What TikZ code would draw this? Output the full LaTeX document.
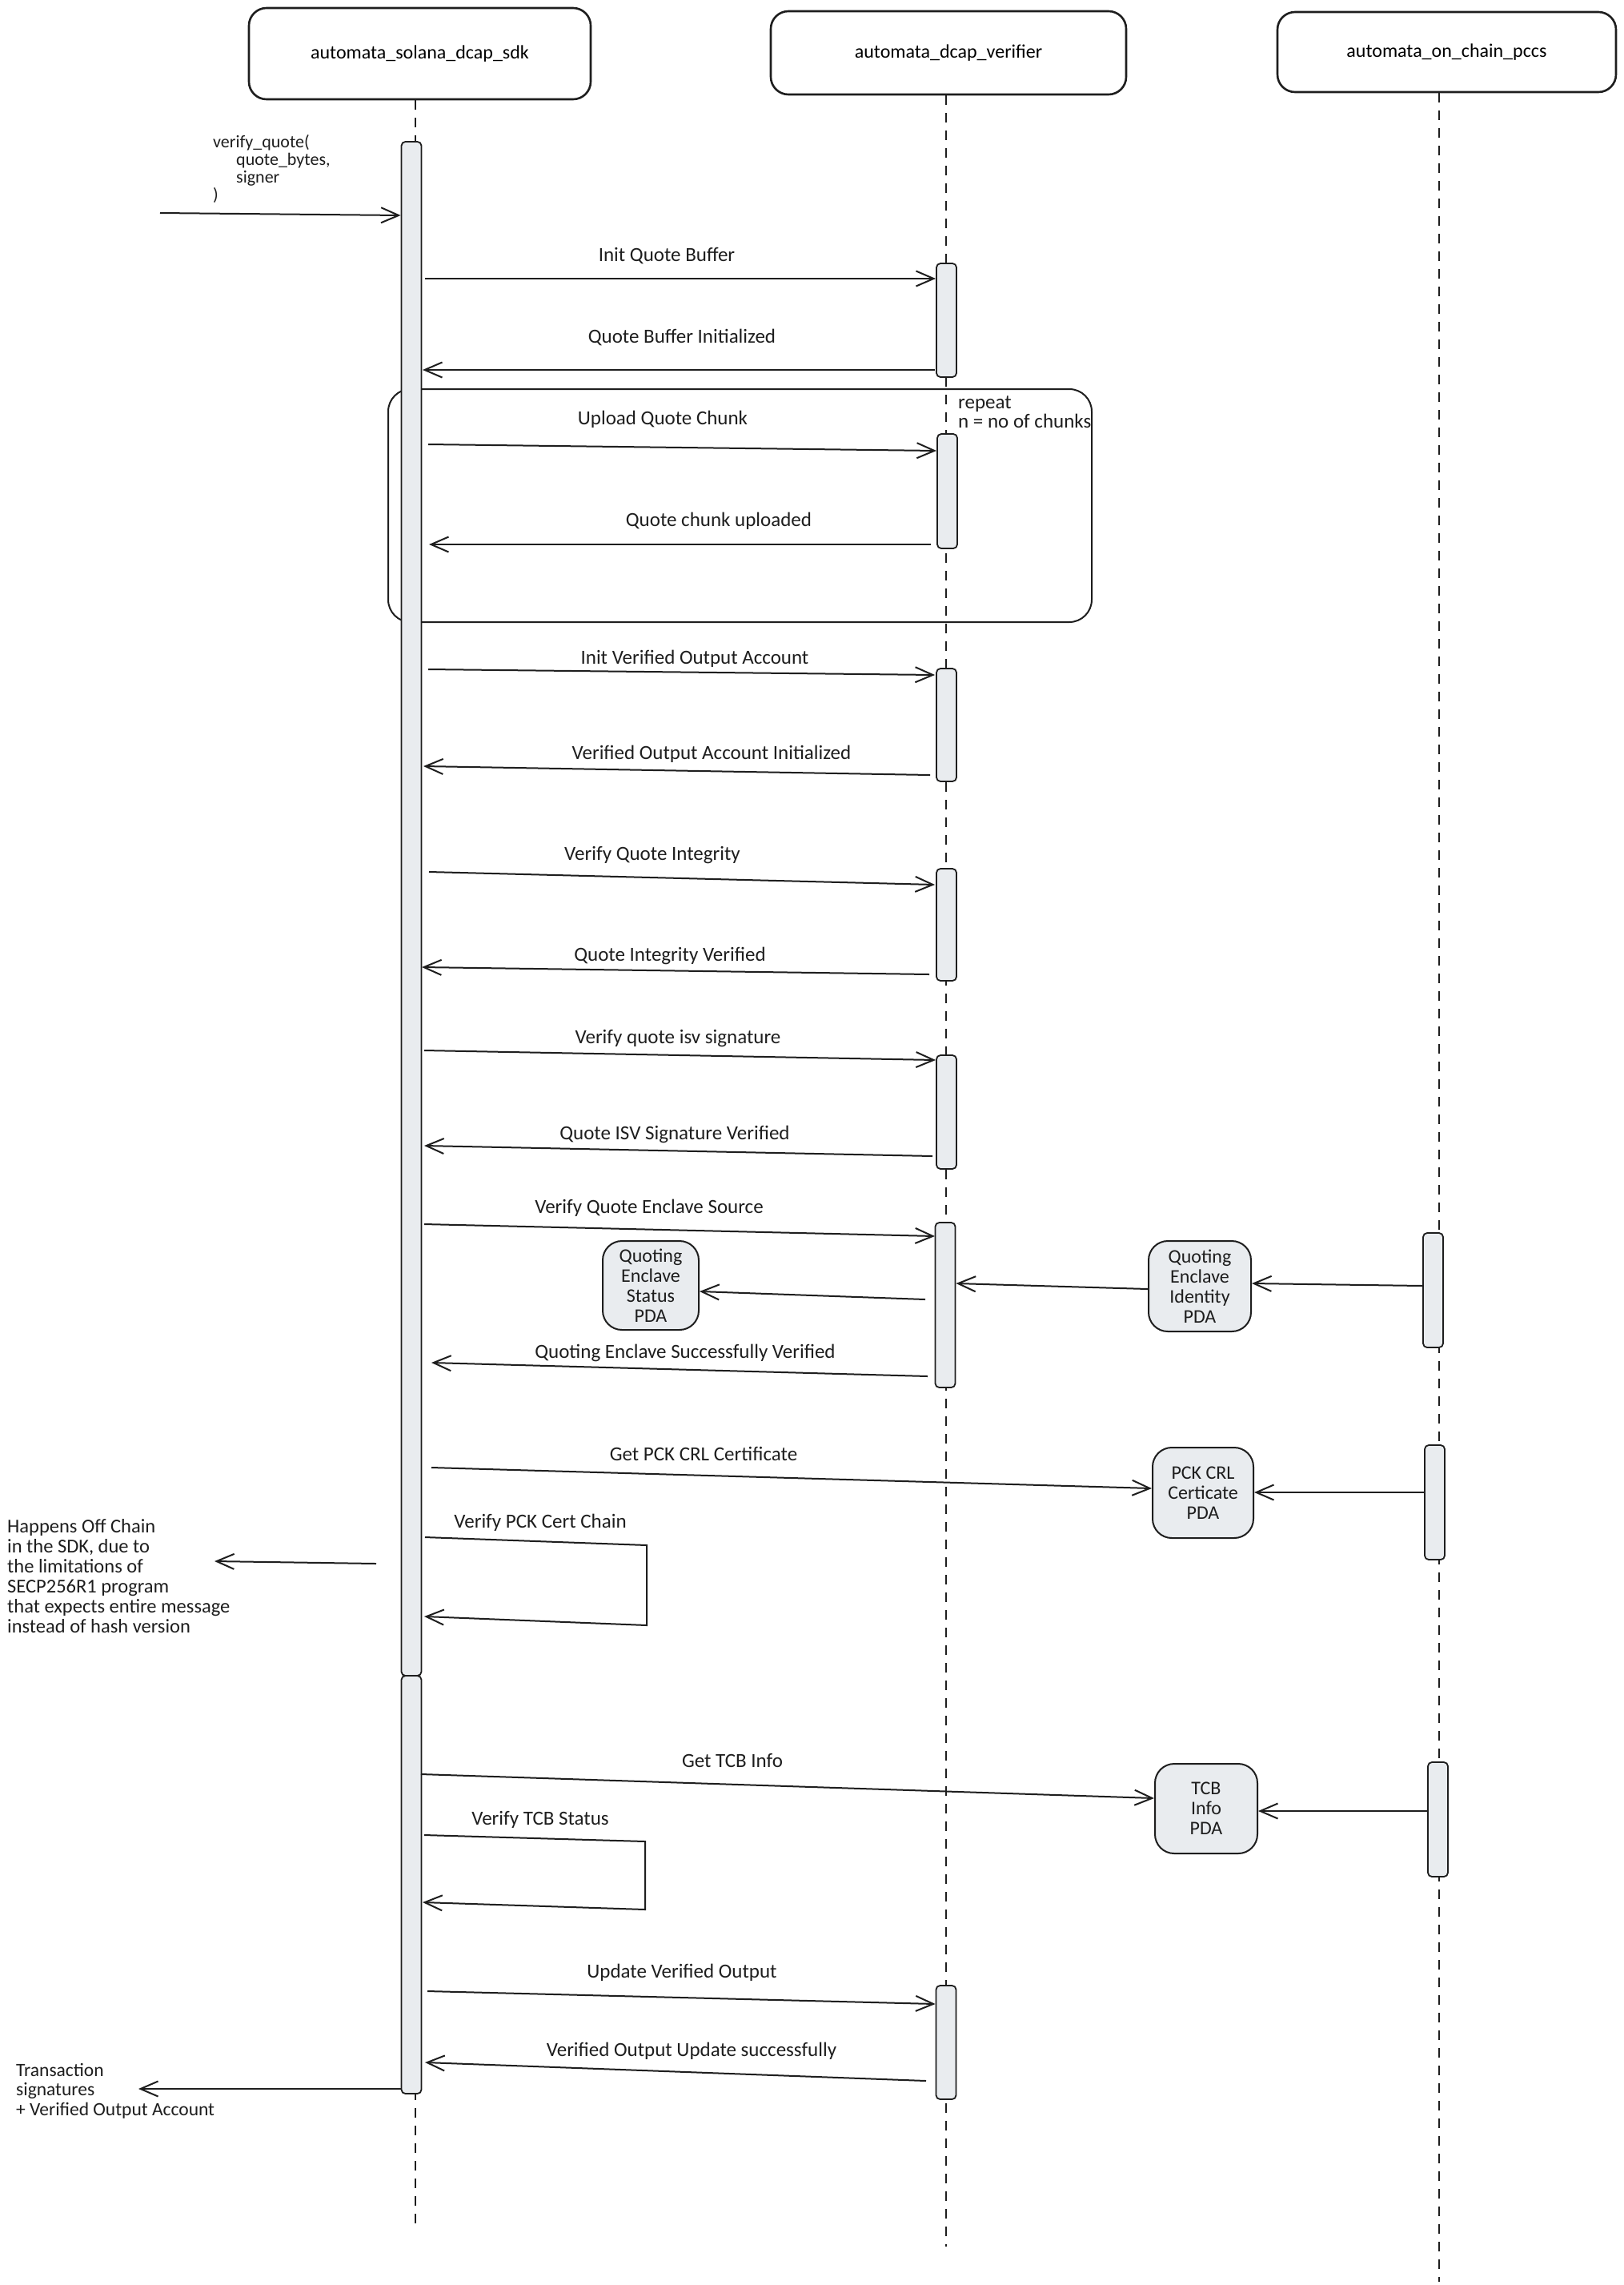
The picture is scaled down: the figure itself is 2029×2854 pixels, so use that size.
\documentclass[tikz,border=0pt]{standalone}
\usepackage{fontspec}
\setmainfont{Carlito}
\usetikzlibrary{arrows.meta}
\definecolor{ink}{HTML}{1E1E1E}
\definecolor{actfill}{HTML}{E9ECEF}
\tikzset{
  actor/.style={draw=ink, line width=2.6pt, rounded corners=22pt, font=\fontsize{24}{28}\selectfont},
  lifeline/.style={draw=ink, line width=2.2pt, dash pattern=on 12pt off 10pt},
  actbar/.style={draw=ink, fill=actfill, line width=1.8pt, rounded corners=5pt, minimum width=25pt, inner sep=0pt},
  msg/.style={draw=ink, line width=2pt, -{Straight Barb[length=22pt,width=19pt,line width=2pt]}},
  selfmsg/.style={draw=ink, line width=2pt, -{Straight Barb[length=22pt,width=19pt,line width=2pt]}},
  lbl/.style={font=\fontsize{25}{28}\selectfont, inner sep=0pt, text=ink},
  note/.style={font=\fontsize{24.5}{25}\selectfont, inner sep=0pt, align=left, text=ink},
  pda/.style={draw=ink, fill=actfill, line width=2pt, rounded corners=24pt, align=center, inner sep=0pt, font=\fontsize{24}{25}\selectfont, text=ink},
  loopbox/.style={draw=ink, line width=2pt, rounded corners=28pt, inner sep=0pt}
}
\begin{document}
\begin{tikzpicture}[x=1pt,y=-1pt]
\useasboundingbox (0,0) rectangle (2029,2854);
\fill[white] (0,0) rectangle (2029,2854);

% actors
\node[actor, minimum width=427pt, minimum height=114pt] (sdk) at (524.5,67) {automata\_solana\_dcap\_sdk};
\node[actor, minimum width=444pt, minimum height=104pt] (ver) at (1185,66) {automata\_dcap\_verifier};
\node[actor, minimum width=423pt, minimum height=100pt] (pccs) at (1807.5,65) {automata\_on\_chain\_pccs};

% lifelines
\coordinate (sdkend) at (519,2779);
\coordinate (verend) at (1182,2806);
\coordinate (pccsend) at (1798,2850);
\draw[lifeline] (sdkend |- sdk.south) -- (sdkend);
\draw[lifeline] (verend |- ver.south) -- (verend);
\draw[lifeline] (pccsend |- pccs.south) -- (pccsend);

% loop frame
\node[loopbox, minimum width=879pt, minimum height=291pt] (loop) at (924.5,631.5) {};
\node[note, anchor=north west, font=\fontsize{25}{24}\selectfont] (rep) at (1197,494) {repeat\\n = no of chunks};

% activation bars
\node[actbar, minimum height=1916pt] (sb1) at (514,1135) {};
\node[actbar, minimum height=522pt] (sb2) at (514,2354) {};
\node[actbar, minimum height=142pt] (v1) at (1182.5,400) {};
\node[actbar, minimum height=143pt] (v2) at (1183.5,613.5) {};
\node[actbar, minimum height=141pt] (v3) at (1182.5,905.5) {};
\node[actbar, minimum height=140pt] (v4) at (1182.5,1155) {};
\node[actbar, minimum height=142pt] (v5) at (1182.5,1389) {};
\node[actbar, minimum height=206pt] (v6) at (1181,1630) {};
\node[actbar, minimum height=142pt] (v7) at (1182,2551) {};
\node[actbar, minimum height=143pt] (p1) at (1790.5,1611.5) {};
\node[actbar, minimum height=143pt] (p2) at (1792.5,1876.5) {};
\node[actbar, minimum height=143pt] (p3) at (1796.5,2272.5) {};

% PDA boxes
\node[pda, minimum width=120pt, minimum height=111pt] (qes) at (813,1605.5) {Quoting\\Enclave\\Status\\PDA};
\node[pda, minimum width=128pt, minimum height=113pt] (qei) at (1499,1606.5) {Quoting\\Enclave\\Identity\\PDA};
\node[pda, minimum width=126pt, minimum height=113pt] (pck) at (1503,1864.5) {PCK CRL\\Certicate\\PDA};
\node[pda, minimum width=128pt, minimum height=112pt] (tcb) at (1507,2259) {TCB\\Info\\PDA};

% entry
\node[note, anchor=north west, font=\fontsize{22}{22}\selectfont] (call) at (266,168) {verify\_quote(\\\hspace*{29pt}quote\_bytes,\\\hspace*{29pt}signer\\)};
\coordinate (entry) at (200,266);
\draw[msg] (entry) -- (sb1.west |- 0,269);

% messages
\coordinate (m1s) at (531,348);  \coordinate (m1e) at (1169,348);
\draw[msg] (m1s) -- (m1e);
\node[lbl] (l1) at (833,320) {Init Quote Buffer};

\coordinate (m2s) at (1168,462); \coordinate (m2e) at (528,462);
\draw[msg] (m2s) -- (m2e);
\node[lbl] (l2) at (852,421) {Quote Buffer Initialized};

\coordinate (m3s) at (535,555);  \coordinate (m3e) at (1170,563);
\draw[msg] (m3s) -- (m3e);
\node[lbl] (l3) at (828,524) {Upload Quote Chunk};

\coordinate (m4s) at (1163,680); \coordinate (m4e) at (536,680);
\draw[msg] (m4s) -- (m4e);
\node[lbl] (l4) at (898,651) {Quote chunk uploaded};

\coordinate (m5s) at (535,836);  \coordinate (m5e) at (1168,843);
\draw[msg] (m5s) -- (m5e);
\node[lbl] (l5) at (868,823) {Init Verified Output Account};

\coordinate (m6s) at (1162,968); \coordinate (m6e) at (529,957);
\draw[msg] (m6s) -- (m6e);
\node[lbl] (l6) at (889,942) {Verified Output Account Initialized};

\coordinate (m7s) at (536,1089); \coordinate (m7e) at (1168,1105);
\draw[msg] (m7s) -- (m7e);
\node[lbl] (l7) at (815,1068) {Verify Quote Integrity};

\coordinate (m8s) at (1161,1217); \coordinate (m8e) at (527,1208);
\draw[msg] (m8s) -- (m8e);
\node[lbl] (l8) at (837,1194) {Quote Integrity Verified};

\coordinate (m9s) at (530,1312); \coordinate (m9e) at (1169,1324);
\draw[msg] (m9s) -- (m9e);
\node[lbl] (l9) at (847,1297) {Verify quote isv signature};

\coordinate (m10s) at (1165,1444); \coordinate (m10e) at (530,1431);
\draw[msg] (m10s) -- (m10e);
\node[lbl] (l10) at (843,1417) {Quote ISV Signature Verified};

\coordinate (m11s) at (530,1529); \coordinate (m11e) at (1168,1544);
\draw[msg] (m11s) -- (m11e);
\node[lbl] (l11) at (811,1509) {Verify Quote Enclave Source};

\coordinate (m12s) at (1156,1623);
\draw[msg] (m12s) -- (qes.east |- 0,1613);
\draw[msg] (qei.west |- 0,1610) -- (v6.east |- 0,1603);
\draw[msg] (p1.west |- 0,1606) -- (qei.east |- 0,1603);

\coordinate (m15s) at (1159,1719); \coordinate (m15e) at (539,1702);
\draw[msg] (m15s) -- (m15e);
\node[lbl] (l15) at (856,1690) {Quoting Enclave Successfully Verified};

\coordinate (m16s) at (539,1833);
\draw[msg] (m16s) -- (pck.west |- 0,1859);
\node[lbl] (l16) at (879,1816) {Get PCK CRL Certificate};
\draw[msg] (p2.west |- 0,1864) -- (pck.east |- 0,1864);

% self message: Verify PCK Cert Chain
\coordinate (s1a) at (531,1920); \coordinate (s1b) at (808,1930);
\coordinate (s1c) at (808,2030); \coordinate (s1d) at (530,2019);
\draw[selfmsg] (s1a) -- (s1b) -- (s1c) -- (s1d);
\node[lbl] (l18) at (675,1902) {Verify PCK Cert Chain};

% off-chain note
\coordinate (n1s) at (470,1953); \coordinate (n1e) at (268,1950);
\draw[msg] (n1s) -- (n1e);
\node[note, anchor=north west] (offchain) at (9,1897) {Happens Off Chain\\in the SDK, due to\\the limitations of\\SECP256R1 program\\that expects entire message\\instead of hash version};

% TCB
\coordinate (m20s) at (526,2216);
\draw[msg] (m20s) -- (tcb.west |- 0,2246);
\node[lbl] (l20) at (915,2199) {Get TCB Info};
\draw[msg] (p3.west |- 0,2262) -- (tcb.east |- 0,2262);

\coordinate (s2a) at (530,2292); \coordinate (s2b) at (806,2300);
\coordinate (s2c) at (806,2385); \coordinate (s2d) at (528,2376);
\draw[selfmsg] (s2a) -- (s2b) -- (s2c) -- (s2d);
\node[lbl] (l22) at (675,2273) {Verify TCB Status};

\coordinate (m23s) at (534,2487);
\draw[msg] (m23s) -- (v7.west |- 0,2503);
\node[lbl] (l23) at (852,2464) {Update Verified Output};

\coordinate (m24s) at (1157,2599); \coordinate (m24e) at (531,2576);
\draw[msg] (m24s) -- (m24e);
\node[lbl] (l24) at (864,2562) {Verified Output Update successfully};

\coordinate (retE) at (173,2609);
\draw[msg] (sb2.west |- 0,2609) -- (retE);
\node[note, anchor=north west, font=\fontsize{23.5}{24.5}\selectfont] (ret) at (20,2577) {Transaction\\signatures\\+ Verified Output Account};
\end{tikzpicture}
\end{document}
